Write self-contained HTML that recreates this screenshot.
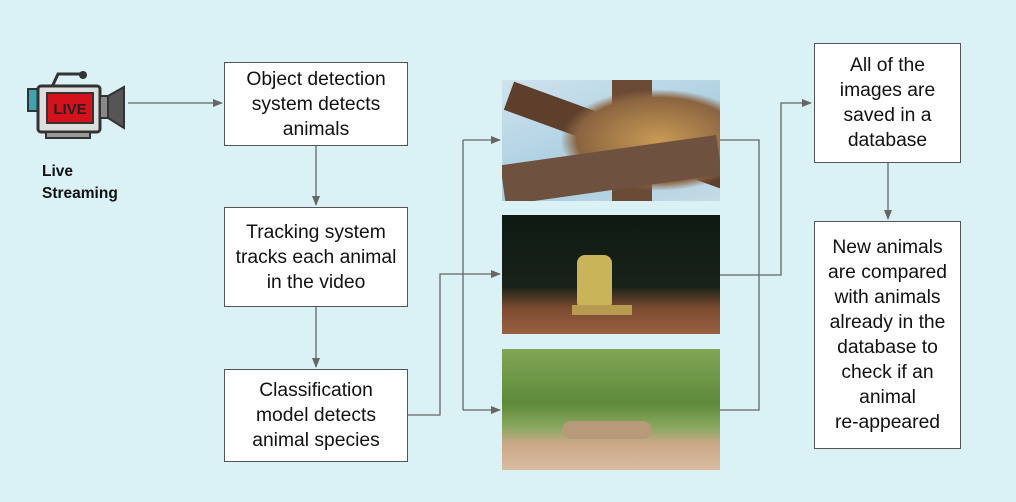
<!DOCTYPE html>
<html><head><meta charset="utf-8"><style>
body{margin:0;width:1016px;height:502px;background:#daf2f5;position:relative;overflow:hidden;font-family:"Liberation Sans",sans-serif}
.b{position:absolute;background:#fff;border:1px solid #555;box-sizing:border-box;display:flex;align-items:center;justify-content:center;text-align:center;font-size:19.3px;line-height:25px;color:#111;white-space:nowrap}
.img{position:absolute;overflow:hidden}
</style></head><body>
<svg width="1016" height="502" style="position:absolute;left:0;top:0">
<defs><marker id="a" markerWidth="10" markerHeight="8" refX="9" refY="4" orient="auto" markerUnits="userSpaceOnUse"><path d="M0,0L10,4L0,8z" fill="#666"/></marker></defs>
<g stroke="#666" stroke-width="1.3" fill="none">
<path d="M128,103H222" marker-end="url(#a)"/>
<path d="M316,146V205" marker-end="url(#a)"/>
<path d="M316,307V367" marker-end="url(#a)"/>
<path d="M408,415H440V274H500" marker-end="url(#a)"/>
<path d="M463,140V410"/>
<path d="M463,140H500" marker-end="url(#a)"/>
<path d="M463,410H500" marker-end="url(#a)"/>
<path d="M720,140H759V410H720"/>
<path d="M720,275H781V103H811" marker-end="url(#a)"/>
<path d="M888,163V219" marker-end="url(#a)"/>
</g>
<g>
<path d="M52,87L58,74H82" stroke="#333" stroke-width="3" fill="none"/>
<circle cx="83" cy="75" r="4" fill="#333"/>
<rect x="28" y="89" width="12" height="22" fill="#3aa6b0" stroke="#333" stroke-width="2"/>
<rect x="38" y="86" width="62" height="46" rx="3" fill="#ddd" stroke="#333" stroke-width="3"/>
<rect x="47" y="93" width="46" height="30" fill="#d4121c" stroke="#333" stroke-width="2"/>
<text x="70" y="114" font-size="15" font-weight="bold" fill="#222" text-anchor="middle" font-family="Liberation Sans">LIVE</text>
<rect x="100" y="96" width="10" height="22" fill="#888" stroke="#333" stroke-width="2"/>
<path d="M108,96L124,87V128L108,118z" fill="#555" stroke="#333" stroke-width="2"/>
<rect x="46" y="132" width="44" height="6" fill="#999" stroke="#333" stroke-width="2"/>
</g>
</svg>
<div style="position:absolute;left:42px;top:161px;font-weight:bold;font-size:15.5px;line-height:22px;color:#111">Live<br>Streaming</div>
<div class="b" style="left:224px;top:62px;width:184px;height:84px">Object detection<br>system detects<br>animals</div>
<div class="b" style="left:224px;top:207px;width:184px;height:100px">Tracking system<br>tracks each animal<br>in the video</div>
<div class="b" style="left:224px;top:369px;width:184px;height:93px">Classification<br>model detects<br>animal species</div>
<div class="b" style="left:814px;top:43px;width:147px;height:120px">All of the<br>images are<br>saved in a<br>database</div>
<div class="b" style="left:814px;top:221px;width:147px;height:228px">New animals<br>are compared<br>with animals<br>already in the<br>database to<br>check if an<br>animal<br>re-appeared</div>
<div class="img" style="left:502px;top:80px;width:218px;height:121px;background:linear-gradient(160deg,#cfe3ee 0%,#a8cde0 60%,#c6dbe6 100%)">
<div style="position:absolute;left:0;top:40px;width:230px;height:30px;background:#5e3f2c;transform:rotate(20deg)"></div>
<div style="position:absolute;left:110px;top:0;width:40px;height:121px;background:#6b4a36"></div>
<div style="position:absolute;left:60px;top:10px;width:160px;height:100px;background:radial-gradient(ellipse at 60% 50%,#c89a55 0%,#8a6440 60%,transparent 72%)"></div>
<div style="position:absolute;left:0;top:70px;width:218px;height:40px;background:#6f5140;transform:rotate(-8deg)"></div>
</div>
<div class="img" style="left:502px;top:215px;width:218px;height:119px;background:linear-gradient(#0f1a12 0%,#182218 60%,#7a4a30 78%,#9a6040 100%)">
<div style="position:absolute;left:75px;top:40px;width:35px;height:55px;background:#c9b45a;border-radius:8px"></div>
<div style="position:absolute;left:70px;top:90px;width:60px;height:10px;background:#b89a50"></div>
</div>
<div class="img" style="left:502px;top:349px;width:218px;height:121px;background:linear-gradient(#7fa655 0%,#5f8a3a 45%,#8aa860 65%,#c9a888 78%,#d8bca0 100%)">
<div style="position:absolute;left:60px;top:72px;width:90px;height:18px;background:#b89a7a;border-radius:9px"></div>
</div>
</body></html>
